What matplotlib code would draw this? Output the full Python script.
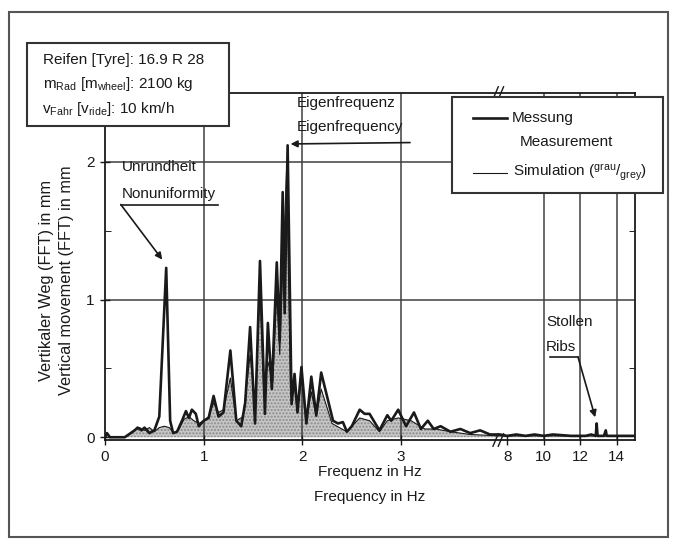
import numpy as np
import matplotlib
matplotlib.use('Agg')
import matplotlib.pyplot as plt
from matplotlib.patches import Rectangle
from matplotlib.lines import Line2D
from matplotlib.ticker import FixedLocator, NullLocator

plt.rcParams['font.family'] = ['Liberation Sans', 'DejaVu Sans']
plt.rcParams['mathtext.fontset'] = 'custom'
plt.rcParams['mathtext.rm'] = 'Liberation Sans'
plt.rcParams['mathtext.it'] = 'Liberation Sans:italic'

# Messung (Measurement), Frequenz in Hz / Amplitude in mm
meas_f = [0.0, 0.02, 0.05, 0.2, 0.3, 0.33, 0.37, 0.4, 0.45, 0.5, 0.55, 0.62, 0.66, 0.69,
          0.73, 0.78, 0.82, 0.85, 0.88, 0.92, 0.95, 1.0, 1.05, 1.1, 1.15, 1.2, 1.27, 1.33,
          1.38, 1.42, 1.47, 1.52, 1.57, 1.62, 1.65, 1.69, 1.74, 1.77, 1.80, 1.82, 1.85,
          1.89, 1.92, 1.95, 1.99, 2.04, 2.09, 2.14, 2.19, 2.31, 2.36, 2.41, 2.45, 2.5,
          2.58, 2.63, 2.68, 2.78, 2.86, 2.9, 2.97, 3.05, 3.13, 3.2, 3.27, 3.33, 3.4, 3.5,
          3.6, 3.7, 3.8, 3.9, 4.0,
          7.6, 8.0, 8.5, 9.0, 9.5, 10.0, 10.5, 11.0, 11.5, 12.0, 12.3, 12.6, 12.85, 12.9,
          12.95, 13.3, 13.4, 13.45, 14.0, 14.5, 15.0]
meas_a = [0.0, 0.03, 0.0, 0.0, 0.05, 0.07, 0.05, 0.07, 0.03, 0.05, 0.15, 1.23, 0.12, 0.03,
          0.04, 0.12, 0.19, 0.14, 0.2, 0.17, 0.08, 0.12, 0.14, 0.3, 0.15, 0.18, 0.63, 0.12,
          0.08, 0.25, 0.8, 0.1, 1.28, 0.17, 0.83, 0.35, 1.27, 0.7, 1.78, 0.9, 2.12,
          0.24, 0.46, 0.18, 0.51, 0.1, 0.44, 0.16, 0.47, 0.12, 0.1, 0.11, 0.04, 0.08,
          0.2, 0.17, 0.17, 0.05, 0.16, 0.12, 0.2, 0.08, 0.18, 0.06, 0.12, 0.06, 0.08, 0.04,
          0.06, 0.03, 0.05, 0.02, 0.02,
          0.02, 0.01, 0.02, 0.01, 0.02, 0.01, 0.02, 0.015, 0.01, 0.01, 0.01, 0.02, 0.01, 0.1,
          0.01, 0.01, 0.05, 0.01, 0.01, 0.01, 0.01]

# Simulation (grau / grey)
sim_f = [0.0, 0.2, 0.3, 0.35, 0.4, 0.45, 0.5, 0.55, 0.6, 0.65, 0.7, 0.75, 0.8, 0.85, 0.9,
         0.95, 1.0, 1.05, 1.1, 1.15, 1.2, 1.27, 1.33, 1.4, 1.47, 1.52, 1.57, 1.61, 1.65,
         1.7, 1.74, 1.77, 1.80, 1.84, 1.88, 1.92, 1.95, 1.99, 2.04, 2.09, 2.14, 2.19, 2.3,
         2.45, 2.58, 2.68, 2.78, 2.86, 2.97, 3.1, 3.24, 3.35, 3.5, 3.7, 4.0,
         7.6, 10.0, 12.0, 14.0, 15.0]
sim_a = [0.0, 0.0, 0.05, 0.07, 0.05, 0.07, 0.04, 0.07, 0.08, 0.07, 0.03, 0.06, 0.13, 0.15, 0.12,
         0.1, 0.12, 0.15, 0.25, 0.18, 0.2, 0.43, 0.12, 0.15, 0.6, 0.25, 1.05, 0.3, 0.55,
         0.4, 1.05, 0.6, 1.2, 1.95, 0.3, 0.35, 0.2, 0.42, 0.12, 0.33, 0.15, 0.35, 0.1,
         0.04, 0.14, 0.12, 0.04, 0.12, 0.14, 0.12, 0.06, 0.06, 0.04, 0.02, 0.01,
         0.01, 0.01, 0.01, 0.01, 0.01]

x_ticks = [0, 1, 2, 3, 8, 10, 12, 14]
x_grid = [1, 2, 3, 10, 12, 14]
y_ticks = [0, 1, 2]
y_grid = [1, 2]

# gebrochene Frequenzachse: 0..4 Hz linear, dann 7.6..15 Hz gestaucht
BRK_LO, BRK_HI, K2 = 4.0, 7.6, 0.185
F_MAX = 15.0


def fwd(f):
    f = np.asarray(f, dtype=float)
    return np.where(f <= BRK_LO, f, np.where(f < BRK_HI, BRK_LO, BRK_LO + (f - BRK_HI) * K2))


def inv(u):
    u = np.asarray(u, dtype=float)
    return np.where(u <= BRK_LO, u, BRK_HI + (u - BRK_LO) / K2)


W, H = 679, 540


def fp(x, y):
    return x / W, 1 - y / H


FS = 11
ink = '#1a1a1a'

fig = plt.figure(figsize=(6.79, 5.40), dpi=100)
ax = fig.add_axes([105 / W, 1 - 440 / H, 530 / W, (440 - 93) / H])
ax.set_xscale('function', functions=(fwd, inv))
ax.set_xlim(0, F_MAX)
ax.set_ylim(-0.02, 2.5)

ax.fill_between(sim_f, sim_a, 0, facecolor='#c6c6c6', edgecolor='#8a8a8a',
                hatch='.....', linewidth=0, zorder=1)
ax.plot(sim_f, sim_a, color=ink, lw=0.8, zorder=3)
ax.plot(meas_f, meas_a, color=ink, lw=1.9, zorder=4)

for g in x_grid:
    ax.axvline(g, color='#404040', lw=1.1, zorder=1.5)
for g in y_grid:
    ax.axhline(g, color='#404040', lw=1.1, zorder=1.5)

ax.xaxis.set_major_locator(FixedLocator(x_ticks))
ax.xaxis.set_minor_locator(NullLocator())
ax.set_xticklabels([str(t) for t in x_ticks])
ax.set_yticks(y_ticks)
ax.set_yticks([0.5, 1.5], minor=True)
ax.tick_params(axis='both', which='major', direction='inout', length=7, width=1.0,
               labelsize=FS, colors=ink, pad=4)
ax.tick_params(axis='y', which='minor', direction='in', length=4, left=True, right=True)
ax.tick_params(axis='y', which='major', right=False)
for s in ax.spines.values():
    s.set_linewidth(1.3)
    s.set_color(ink)

# Achsenbruch-Markierung //
xb = float(fwd(BRK_LO) / fwd(F_MAX))
for yy in (0.0, 1.0):
    for dx in (-0.008, 0.002):
        ax.plot([xb + dx - 0.005, xb + dx + 0.005], [yy - 0.018, yy + 0.018],
                transform=ax.transAxes, color=ink, lw=1.0, clip_on=False, zorder=5)

# Annotationen
tkw = dict(fontsize=FS, color=ink, va='center', ha='left')
akw = dict(arrowstyle='-|>', color=ink, lw=1.2, shrinkA=0, shrinkB=0, mutation_scale=10)

ax.text(0.17, 1.96, 'Unrundheit', **tkw)
ax.text(0.17, 1.77, 'Nonuniformity', **tkw)
ax.plot([0.16, 1.14], [1.69, 1.69], color=ink, lw=1.2, zorder=5)
ax.annotate('', xy=(0.58, 1.29), xytext=(0.16, 1.69), arrowprops=akw)

ax.text(1.945, 2.43, 'Eigenfrequenz', **tkw)
ax.text(1.945, 2.255, 'Eigenfrequency', **tkw)
ax.annotate('', xy=(1.88, 2.13), xytext=(3.09, 2.14), arrowprops=akw)

ax.text(10.13, 0.836, 'Stollen', **tkw)
ax.text(10.13, 0.655, 'Ribs', **tkw)
ax.plot([10.35, 11.88], [0.582, 0.582], color=ink, lw=1.2, zorder=5)
ax.annotate('', xy=(12.82, 0.145), xytext=(11.88, 0.582), arrowprops=akw)

# Achsenbeschriftung
fig.text(*fp(370, 472), 'Frequenz in Hz', fontsize=FS, color=ink, ha='center', va='center')
fig.text(*fp(370, 497), 'Frequency in Hz', fontsize=FS, color=ink, ha='center', va='center')
fig.text(*fp(47, 280), 'Vertikaler Weg (FFT) in mm', fontsize=11.8, color=ink,
         rotation=90, ha='center', va='center')
fig.text(*fp(67, 280), 'Vertical movement (FFT) in mm', fontsize=11.8, color=ink,
         rotation=90, ha='center', va='center')

# Info-Kasten
x0, y0 = fp(27, 126)
x1, y1 = fp(229, 43)
fig.add_artist(Rectangle((x0, y0), x1 - x0, y1 - y0, transform=fig.transFigure,
                         facecolor='white', edgecolor='#333333', lw=1.5, zorder=10))
fig.text(*fp(43, 60), 'Reifen [Tyre]: 16.9 R 28', fontsize=FS, color=ink, va='center', zorder=11)
fig.text(*fp(43, 84), r'm$_{\mathrm{Rad}}$ [m$_{\mathrm{wheel}}$]: 2100 kg', fontsize=FS,
         color=ink, va='center', zorder=11)
fig.text(*fp(42, 109), r'v$_{\mathrm{Fahr}}$ [v$_{\mathrm{ride}}$]: 10 km/h', fontsize=FS,
         color=ink, va='center', zorder=11)

# Legende
x0, y0 = fp(452, 193)
x1, y1 = fp(663, 97)
fig.add_artist(Rectangle((x0, y0), x1 - x0, y1 - y0, transform=fig.transFigure,
                         facecolor='white', edgecolor='#333333', lw=1.5, zorder=10))
lx0, _ = fp(473, 0)
lx1, _ = fp(507, 0)
_, ly = fp(0, 118)
fig.add_artist(Line2D([lx0, lx1], [ly, ly], transform=fig.transFigure, color=ink, lw=1.9, zorder=11))
_, ly = fp(0, 173)
fig.add_artist(Line2D([lx0, lx1], [ly, ly], transform=fig.transFigure, color=ink, lw=0.8, zorder=11))
fig.text(*fp(512, 118), 'Messung', fontsize=FS, color=ink, va='center', zorder=11)
fig.text(*fp(520, 142), 'Measurement', fontsize=FS, color=ink, va='center', zorder=11)
fig.text(*fp(513, 173), r'Simulation ($^{\mathrm{grau}}/_{\mathrm{grey}}$)', fontsize=FS,
         color=ink, va='center', zorder=11)

# Rahmen
x0, y0 = fp(9, 537)
x1, y1 = fp(668, 12)
fig.add_artist(Rectangle((x0, y0), x1 - x0, y1 - y0, transform=fig.transFigure,
                         facecolor='none', edgecolor='#555555', lw=1.5, zorder=0))

fig.savefig('out.png', dpi=100)
